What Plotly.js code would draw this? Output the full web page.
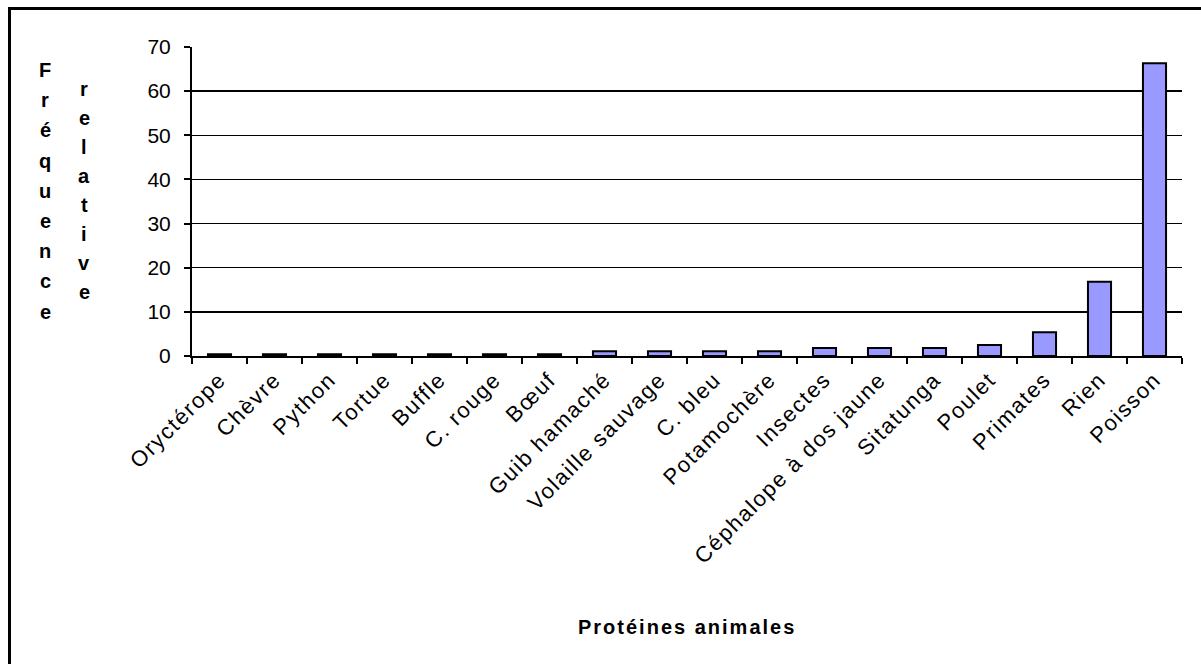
<!DOCTYPE html>
<html><head><meta charset="utf-8">
<script src="https://cdn.plot.ly/plotly-3.0.1.min.js"></script>
<style>html,body{margin:0;padding:0;background:#fff;}#chart{width:1201px;height:664px;}
.xtick text{letter-spacing:1.6px;}</style>
</head><body><div id="chart"></div>
<script>
const categories = ["Oryctérope","Chèvre","Python","Tortue","Buffle","C. rouge","Bœuf","Guib hamaché","Volaille sauvage","C. bleu","Potamochère","Insectes","Céphalope à dos jaune","Sitatunga","Poulet","Primates","Rien","Poisson"];
const values = [0.4,0.4,0.4,0.4,0.4,0.4,0.4,1.1,1.1,1.1,1.1,1.8,1.8,1.8,2.5,5.4,16.8,66.3];
const yTickValues = [0,10,20,30,40,50,60,70];
const yTitleWord1 = "Fréquence";
const yTitleWord2 = "relative";
const xTitle = "Protéines animales";

const font = "Liberation Sans, Arial, sans-serif";
const ML = 192, MR = 19, MT = 47, MB = 308;
const W = 1201, H = 664;
const pw = W - ML - MR, ph = H - MT - MB;
function px2x(p){ return (p - ML) / pw; }
function py2y(p){ return 1 - (p - MT) / ph; }

const annotations = [];
[...yTitleWord1].forEach((ch, i) => {
  annotations.push({xref:'paper', yref:'paper', x: px2x(45), y: py2y(70 + i*30.2), text: ch, showarrow:false,
    xanchor:'center', yanchor:'middle', font:{family:font, size:20, color:'#000', weight:'bold'}});
});
[...yTitleWord2].forEach((ch, i) => {
  annotations.push({xref:'paper', yref:'paper', x: px2x(84), y: py2y(89 + i*29), text: ch, showarrow:false,
    xanchor:'center', yanchor:'middle', font:{family:font, size:20, color:'#000', weight:'bold'}});
});
annotations.push({xref:'paper', yref:'paper', x: 0.5, y: py2y(627), text: '<span style="letter-spacing:2px">' + xTitle + '</span>', showarrow:false,
  xanchor:'center', yanchor:'middle', font:{family:font, size:20, color:'#000', weight:'bold'}});

const trace = {
  type:'bar', x: categories, y: values,
  marker:{color:'#9999FF', line:{color:'#000', width:2}},
  hoverinfo:'x+y'
};

const layout = {
  width: W, height: H,
  margin:{l:ML, r:MR, t:MT, b:MB, pad:0},
  paper_bgcolor:'#fff', plot_bgcolor:'#fff',
  bargap: 0.58,
  showlegend:false,
  xaxis:{
    type:'category', tickangle:-45, ticks:'outside', tickson:'boundaries', ticklen:6, tickwidth:2, tickcolor:'#000',
    showline:true, linecolor:'#000', linewidth:2, showgrid:false, zeroline:false,
    tickfont:{family:font, size:22, color:'#000'}, automargin:false
  },
  yaxis:{
    range:[0,70], tickvals:yTickValues, ticks:'outside', ticklen:6, tickwidth:2, tickcolor:'#000',
    ticklabelstandoff:9,
    showline:true, linecolor:'#000', linewidth:2, showgrid:true, gridcolor:'#000', gridwidth:1.5,
    zeroline:false, tickfont:{family:font, size:21, color:'#000'}, automargin:false
  },
  annotations: annotations,
  shapes:[{type:'rect', xref:'paper', yref:'paper', x0: px2x(9.5), x1: px2x(1230), y0: py2y(700), y1: py2y(8.5),
    line:{color:'#000', width:3}, fillcolor:'rgba(0,0,0,0)', layer:'above'}]
};

Plotly.newPlot('chart', [trace], layout, {displayModeBar:false, staticPlot:true});
</script></body></html>
